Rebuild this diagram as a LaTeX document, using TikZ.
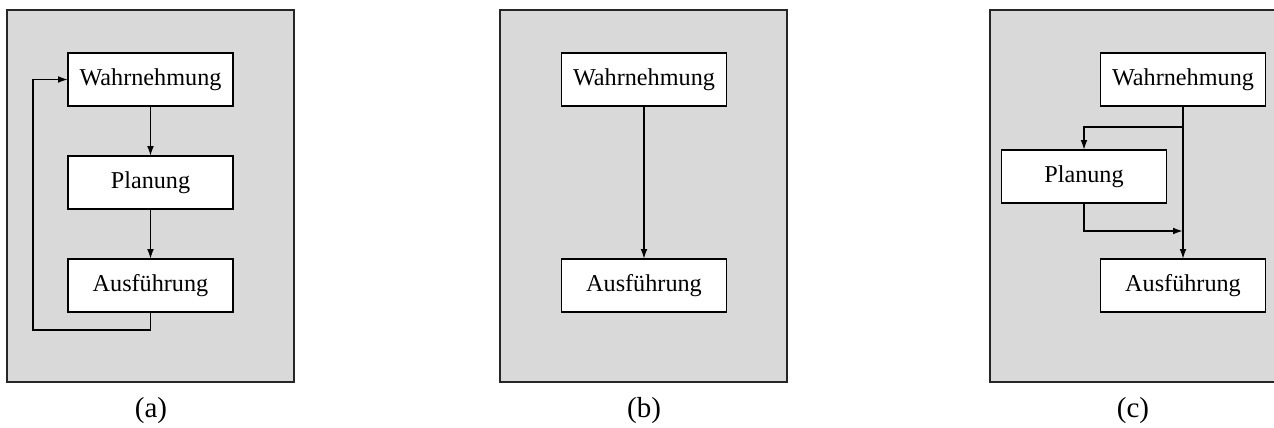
\documentclass[tikz,border=0pt]{standalone}
\usepackage{fontspec}
\setmainfont{Liberation Serif}
\usetikzlibrary{arrows.meta}
\definecolor{panelgray}{HTML}{D9D9D9}
\tikzset{
  panel/.style={fill=panelgray, draw=black!85, line width=0.65pt},
  stagebox/.style={draw=black, fill=white, line width=0.75pt, minimum width=82.5pt, minimum height=26.5pt, inner sep=0pt, outer sep=0pt, font=\fontsize{12.1}{14}\selectfont},
  arr/.style={-{Latex[length=5pt,width=3.4pt]}, line width=0.8pt},
  caption/.style={font=\fontsize{14.5}{17}\selectfont, inner sep=0pt}
}
\begin{document}
\begin{tikzpicture}[x=0.5pt,y=-0.5pt]
\useasboundingbox (0,0) rectangle (1274,428);
% panels
\draw[panel] (7,10) rectangle (294,382);
\draw[panel] (500,10) rectangle (787,382);
\draw[panel] (990,10) rectangle (1277,382);
% (a)
\node[stagebox] (aW) at (150.5,79.5) {Wahrnehmung};
\node[stagebox] (aP) at (150.5,182.5) {Planung};
\node[stagebox] (aA) at (150.5,285.5) {Ausführung};
\coordinate (aL) at (33,330);
\draw[arr] (aW) -- (aP);
\draw[arr] (aP) -- (aA);
\draw[arr] (aA.south) |- (aL) |- (aW.west);
\node[caption] (capa) at (151,411) {(a)};
% (b)
\node[stagebox] (bW) at (644,79.5) {Wahrnehmung};
\node[stagebox] (bA) at (644,285.5) {Ausführung};
\draw[arr] (bW) -- (bA);
\node[caption] (capb) at (644,411) {(b)};
% (c)
\node[stagebox] (cW) at (1183,79.5) {Wahrnehmung};
\node[stagebox] (cP) at (1084,176.5) {Planung};
\node[stagebox] (cA) at (1183,285.5) {Ausführung};
\coordinate (cB) at (1183,127);
\coordinate (cJ) at (1183,231);
\draw[arr] (cW) -- (cA);
\draw[arr] (cB) -| (cP.north);
\draw[arr] (cP.south) |- (cJ);
\node[caption] (capc) at (1133,411) {(c)};
\end{tikzpicture}
\end{document}
